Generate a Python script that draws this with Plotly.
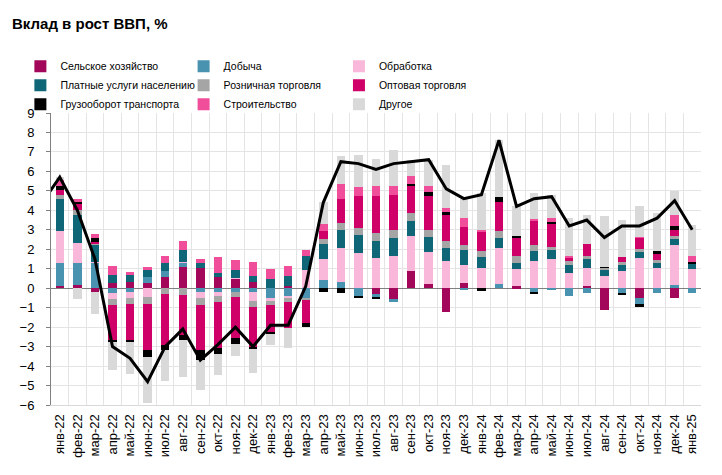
import plotly.graph_objects as go

months = ["янв-22", "фев-22", "мар-22", "апр-22", "май-22", "июн-22", "июл-22", "авг-22",
          "сен-22", "окт-22", "ноя-22", "дек-22", "янв-23", "фев-23", "мар-23", "апр-23",
          "май-23", "июн-23", "июл-23", "авг-23", "сен-23", "окт-23", "ноя-23", "дек-23",
          "янв-24", "фев-24", "мар-24", "апр-24", "май-24", "июн-24", "июл-24", "авг-24",
          "сен-24", "окт-24", "ноя-24", "дек-24", "янв-25"]

agri = [0.12, 0.14, -0.2, 0.29, 0.3, 0.29, 0.6, 1.1, 1.03, 0.55, 0.48, 0.34, 0, 0.1, 0, 0, 0, 0,
        -0.31, -0.57, 0.86, 0.22, -1.23, 0.29, 0, 0, 0.09, 0, 0.03, 0, 0.09, -1.11, 0, -0.51, 0.03, -0.51, 0]
mining = [1.17, 1.16, 1.3, -0.26, -0.17, 0.26, 0.26, 0.2, -0.17, -0.22, -0.17, -0.2, -0.5, -0.43, -0.51,
          0.4, 0.3, -0.43, -0.12, -0.15, 0, 0, 0, -0.09, 0, 0.2, 0, -0.17, -0.05, -0.38, -0.27, 0, -0.26,
          -0.3, -0.26, 0.14, -0.27]
manuf = [1.63, 1.03, 0.05, -0.31, -0.31, -0.46, 0, 0.07, -0.33, -0.18, 0.03, -0.45, -0.18, -0.08, 0.94,
         1.1, 1.77, 1.8, 1.54, 1.68, 1.8, 1.62, 1.41, 0.91, 1.06, 1.86, 0.91, 1.41, 1.48, 0.8, 0.97, 0.65,
         0.89, 1.54, 1.0, 2.06, 1.0]
services = [1.68, 1.44, 0.9, 0.4, 0.38, 0.36, 0.46, 0.6, 0.26, 0.22, 0.4, 0.31, 0.48, 0.55, 0.69, 0.75,
            0.94, 0.91, 0.91, 0.89, 0.8, 0.77, 0.68, 0.77, 0.52, 0.51, 0.29, 0.51, 0.46, 0.39, 0.45, 0.29,
            0.28, 0.35, 0.26, 0.32, 0.27]
retail = [0.2, 0.26, 0.05, -0.29, -0.34, -0.35, -0.3, -0.35, -0.36, -0.32, -0.26, -0.33, -0.18, -0.21,
          -0.09, 0.3, 0.34, 0.38, 0.38, 0.43, 0.4, 0.39, 0.31, 0.26, 0.31, 0.38, 0.34, 0.28, 0.17, 0.21,
          0.17, 0.1, 0.17, 0.1, 0.17, 0.14, 0]
wholesale = [0.25, 0.32, 0.05, -1.85, -1.89, -2.36, -2.6, -2.05, -2.31, -2.37, -2.14, -2.07, -1.44, -1.34,
             -1.2, 0.37, 1.21, 1.63, 1.89, 1.8, 1.44, 1.72, 1.41, 0.89, 1.03, 1.48, 0.98, 1.26, 1.19, 0.2,
             0.58, 0, 0.26, 0.6, 0.32, 0.31, 0]
freight = [0.2, 0.07, 0.25, -0.07, -0.07, -0.35, -0.27, -0.25, -0.52, -0.31, -0.31, -0.05, -0.05, 0,
           -0.17, -0.17, -0.26, -0.05, -0.12, 0, 0.05, 0.22, 0.1, 0, -0.12, 0.24, 0.05, -0.14, 0.08, 0, 0,
           0.07, -0.05, -0.18, 0.11, 0.25, 0.07]
construction = [0.35, 0.16, 0.17, 0.46, 0.15, 0.17, 0.34, 0.43, 0.21, 0.81, 0.55, 0.69, 0.5, 0.5, 0.31,
                0.37, 0.8, 0.46, 0.55, 0.43, 0.43, 0.33, 0.21, 0.48, 0.05, 0, 0, 0.09, 0.22, 0.07, 0, 0,
                0, 0.05, 0, 0.52, 0.29]
other = [0.1, -0.55, -1.1, -1.42, -1.65, -2.4, -1.6, -1.9, -1.54, -1.06, -0.58, -1.27, -0.57, -1.03, 0,
         1.15, 1.43, 1.68, 1.39, 1.89, 0.8, 1.33, 2.23, 1.0, 1.9, 2.96, 1.55, 1.34, 1.16, 1.92, 1.51, 2.58,
         1.92, 1.56, 1.97, 1.26, 1.6]

# GDP growth line (starts one month earlier, дек-21, which falls outside the visible axis)
gdp_months = ["дек-21"] + months
gdp = [4.4, 5.7, 4.0, 1.5, -3.0, -3.6, -4.8, -3.0, -2.1, -3.7, -2.9, -2.0, -3.0, -1.9, -1.9, 0.1, 4.4,
       6.5, 6.4, 6.1, 6.4, 6.5, 6.6, 5.1, 4.6, 4.8, 7.6, 4.2, 4.6, 4.7, 3.2, 3.5, 2.6, 3.2, 3.2, 3.6,
       4.5, 3.0]

# (name, values, colour, legend column)
series = [
    ("Сельское хозяйство", agri, "#A2075A", "legend"),
    ("Добыча", mining, "#4A93B0", "legend2"),
    ("Обработка", manuf, "#F9B8D9", "legend3"),
    ("Платные услуги населению", services, "#0E6677", "legend"),
    ("Розничная торговля", retail, "#A5A5A5", "legend2"),
    ("Оптовая торговля", wholesale, "#CF0068", "legend3"),
    ("Грузооборот транспорта", freight, "#000000", "legend"),
    ("Строительство", construction, "#F04E9B", "legend2"),
    ("Другое", other, "#D9D9D9", "legend3"),
]

x_pos = list(range(len(months)))
gdp_x = list(range(-1, len(months)))

fig = go.Figure()
for name, vals, col, leg in series:
    fig.add_trace(go.Bar(x=x_pos, y=vals, name=name, marker=dict(color=col, line=dict(width=0)),
                         width=0.48, legend=leg))
fig.add_trace(go.Scatter(x=gdp_x, y=gdp, mode="lines", line=dict(color="#000000", width=3),
                         showlegend=False, name="ВВП"))

font_main = "Liberation Sans, Arial, sans-serif"

# the page body adds an 8px offset, so the figure is sized to fill the remaining window
W, H = 714, 467
leg_common = dict(orientation="v", xanchor="left", y=1.21, yanchor="top", traceorder="normal",
                  font=dict(size=10.5, family=font_main), itemwidth=30,
                  bgcolor="rgba(0,0,0,0)", borderwidth=0)
fig.update_layout(
    width=W, height=H,
    margin=dict(l=35, r=21, t=105, b=70),
    barmode="relative",
    bargap=0,
    plot_bgcolor="white", paper_bgcolor="white",
    font=dict(family=font_main, color="#000000"),
    title=dict(text="<b>Вклад в рост ВВП, %</b>", x=4 / W, xref="container", xanchor="left",
               y=1 - 16 / H, yref="container", yanchor="middle",
               font=dict(size=15, family=font_main), pad=dict(l=0, t=0, b=0, r=0)),
    legend=dict(x=-0.0471, **leg_common),
    legend2=dict(x=0.2040, **leg_common),
    legend3=dict(x=0.4430, **leg_common),
)

fig.update_xaxes(
    range=[-0.5, len(months) - 0.5],
    tickmode="array", tickvals=x_pos, ticktext=months, tickangle=-90,
    tickfont=dict(size=13, family=font_main, color="#000000"),
    ticklabelstandoff=3,
    showgrid=False, zeroline=False, showline=True, linecolor="#D9D9D9", linewidth=1,
    ticks="", mirror=False,
    minor=dict(tickvals=[i - 0.5 for i in range(len(months) + 1)], showgrid=True,
               gridcolor="#E4E4E4", gridwidth=1),
)
fig.update_yaxes(
    range=[-6, 9], dtick=1, tick0=0,
    tickfont=dict(size=13, family=font_main, color="#000000"),
    ticklabelstandoff=9,
    showgrid=True, gridcolor="#E4E4E4", gridwidth=1,
    zeroline=True, zerolinecolor="#808080", zerolinewidth=1,
    showline=True, linecolor="#808080", linewidth=1,
    ticks="outside", ticklen=4, tickcolor="#808080",
)

fig.write_html("out.html")
